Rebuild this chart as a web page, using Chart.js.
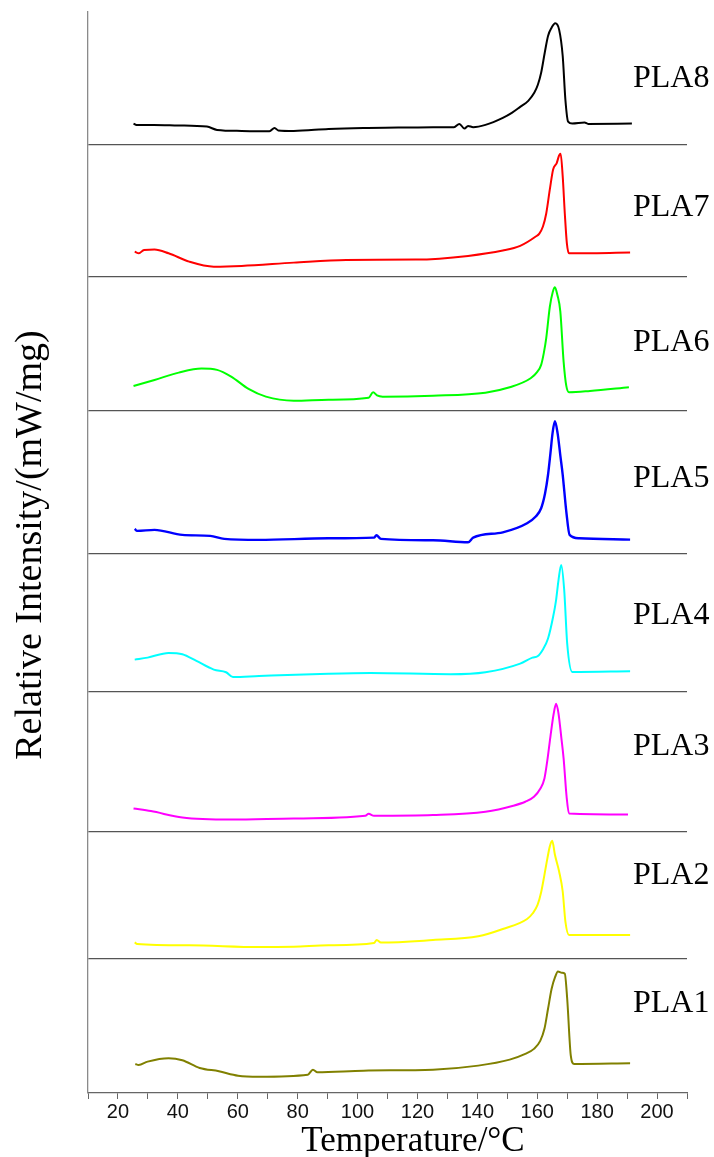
<!DOCTYPE html>
<html>
<head>
<meta charset="utf-8">
<script src="https://cdn.jsdelivr.net/npm/chart.js@4.4.1/dist/chart.umd.min.js"></script>
<style>
html,body{margin:0;padding:0;background:#fff;}
</style>
</head>
<body>
<canvas id="chrDSC" width="714" height="1157"></canvas>
<script>
// DSC curves, bottom panel first (PLA1) up to PLA8
// values = relative heat flow above each panel's base line (arbitrary units)

const samples = ['PLA1','PLA2','PLA3','PLA4','PLA5','PLA6','PLA7','PLA8'];
const colors  = ['#808000','#ffff00','#ff00ff','#00ffff','#0000ff','#00ff00','#ff0000','#000000'];

const pla1Temp = [25.8,26.9,29.9,36.9,41.5,47.3,53.7,60.1,67.1,83.4,85.1,86.6,102,125.2,140.3,150.8,156,158.9,161,162.4,163.6,164.8,166,166.9,168.2,169.2,170,171.2,172.3,191];
const pla1Val  = [29,28,31.3,34.7,32.7,25,21.7,17.3,16.3,18.3,23.3,20.7,22.3,23.3,27.3,33.3,39,44,52,64,84,104,116,121.3,120,119,94,37.3,29,29.7];

const pla2Temp = [25.6,26.4,43.8,67.1,78.7,90.3,105.5,106.4,107.8,125.2,140.3,148.5,156.6,158.5,160.1,161.3,162.4,163.4,164.2,165,165.9,167.3,168.5,169.4,170.6,191];
const pla2Val  = [16,14.3,13,11.3,11.7,13,15.3,18.3,15.7,18.3,22,29.3,39.3,45,53.3,66,83.3,100,111.7,117.3,103.3,86.7,66.7,36.7,23.3,23.3];

const pla3Temp = [25.2,31,41.5,57.8,78.7,102.6,103.7,105.5,125.2,142.7,152,156,158.9,161,162.4,163.4,164.4,165.5,166.3,167.1,168,168.8,169.8,170.6,190.3];
const pla3Val  = [23.3,20.7,14.3,12.3,13.3,16,18,16,16.7,20,26,30,35,43,53.3,72,95,118,127.7,118,95,73.3,35,18.3,17.3];

const pla4Temp = [25.6,29.9,36.9,41.5,46.2,52,56.1,58.4,67.1,90.3,104.3,131,142.7,154.3,158.4,160.1,162,163.6,165.3,166.3,167.1,168,169,170,171.7,191];
const pla4Val  = [32.3,34.3,39,37.7,31,22.3,19.7,15,16,18.3,19,17.7,19.7,28.3,34.3,35.7,43,53.3,75,92,111.7,126.7,101.7,48.3,20,20.7];

const pla5Temp = [25.6,26.4,32.2,41.5,50.8,55.5,67.1,90.3,105.5,106.3,107.8,125.2,136.9,138.6,148.5,156.6,159.5,161.3,162.6,163.6,164.4,165.1,165.9,166.8,167.7,168.5,169.7,170.8,174,191];
const pla5Val  = [24.7,22.7,23.7,18.7,17.7,14.7,13.7,15.3,16,18.3,14.7,13.3,11.3,16,21.3,30.3,37,45.3,60,78.7,100,120,132,120,98,78.7,42,18.7,15.3,14];

const pla6Temp = [25.2,32.2,40.3,47.9,53.1,57.8,63.6,69.4,78.7,90.3,103.7,105.2,106.5,108.4,125.2,142.7,150.8,157.8,160,161.3,162.2,163,164.2,165.2,165.9,166.7,167.7,168.8,169.7,170.6,177.6,190.6];
const pla6Val  = [25,31,38.3,42.3,41,34.3,22,14.3,10.3,11.3,13.3,18.7,15.5,14.3,15.3,18.3,23.7,32.7,39,46,58,72.7,104,119,123.5,116,99.3,49.3,25,18.7,20,23.7];

const pla7Temp = [25.6,27,28.7,32.2,36.9,43.8,52,61.3,78.7,96.2,119.4,136.9,148.5,154.3,159.5,160.7,161.9,163,164.2,165.3,166.5,167.3,167.8,168.5,169.2,169.9,170.6,191];
const pla7Val  = [25,23.3,26.7,27,23.3,15,10,10.7,14,16.7,17,20.7,26,30.7,40,43,50,63,87,107,113.3,121,122.7,100,63,33,23.3,24];

const pla8Temp = [25.2,26.2,32,40,49.7,53.1,61.3,70.6,72.3,73.5,78.7,90.3,102,113.6,125.2,132.2,134,135.7,136.9,138.6,142.7,148.5,151.5,154.3,157,159,160.2,161.3,162.5,163.6,164.8,166,167.3,168.5,169.4,170.3,171.7,175.8,177,191.6];
const pla8Val  = [21.3,20,20,19.5,18.3,15,14,13.7,17,14.5,14,16,17,17.3,17.7,17.7,21,16.3,19,17.7,20,27,32,38,44,52,60,72,92,108.7,117,121.3,115,88.7,45,23.3,21.3,22.3,21,21.3];

const temps = [pla1Temp,pla2Temp,pla3Temp,pla4Temp,pla5Temp,pla6Temp,pla7Temp,pla8Temp];
const vals  = [pla1Val,pla2Val,pla3Val,pla4Val,pla5Val,pla6Val,pla7Val,pla8Val];

const xTicks = [20,40,60,80,100,120,140,160,180,200];
const xTitle = 'Temperature/°C';
const yTitle = 'Relative Intensity/(mW/mg)';

// layout: panel heights (px) and where the sample name sits inside its panel
const panelHeights = [134.3,126.2,139.5,138,142.3,134,131.4,132.6];
const labelLevels  = [89,83,85,76,75,68,69,66];

/******************************** */

const textPlugin = {
  id: 'texts',
  afterDraw: (chart) => {
    const ctx = chart.ctx;
    const area = chart.chartArea;
    ctx.save();
    ctx.fillStyle = '#000';
    ctx.font = '32px "Liberation Serif"';
    ctx.textAlign = 'left';
    ctx.textBaseline = 'middle';
    samples.forEach((name, i) => {
      const s = chart.scales['y' + i];
      ctx.fillText(name, area.right - 54, s.getPixelForValue(labelLevels[i]));
    });
    ctx.font = '35px "Liberation Serif"';
    ctx.textAlign = 'center';
    ctx.textBaseline = 'alphabetic';
    ctx.fillText(xTitle, 413, 1151);
    ctx.translate(41, 545);
    ctx.rotate(-Math.PI / 2);
    ctx.font = '38px "Liberation Serif"';
    ctx.fillText(yTitle, 0, 0);
    ctx.restore();
  }
};

const scales = {
  x: {
    type: 'linear', min: 10, max: 210, position: 'bottom',
    border: { color: '#666', width: 1.3 },
    grid: { drawOnChartArea: false, drawTicks: true, tickLength: 6, color: '#666' },
    ticks: {
      stepSize: 10, autoSkip: false, maxRotation: 0, padding: 1, color: '#111',
      font: { family: 'Liberation Sans', size: 20 },
      callback: (v) => xTicks.includes(v) ? v : ''
    }
  }
};

samples.forEach((name, i) => {
  scales['y' + i] = {
    type: 'linear', position: 'left', stack: 'panels', stackWeight: panelHeights[i],
    min: 0, max: panelHeights[i],
    border: { display: true, color: '#8a8a8a', width: 1.3 },
    grid: { display: i > 0, drawTicks: false, color: '#555', lineWidth: 1.3 },
    ticks: { display: false },
    afterBuildTicks: (s) => { s.ticks = [{ value: 0 }]; }
  };
});

const datasets = samples.map((name, i) => ({
  label: name,
  data: temps[i].map((t, k) => ({ x: t, y: vals[i][k] })),
  yAxisID: 'y' + i,
  borderColor: colors[i],
  borderWidth: i === 4 ? 2.4 : 2,
  pointRadius: 0,
  cubicInterpolationMode: 'monotone',
  fill: false
}));

new Chart(document.getElementById('chrDSC').getContext('2d'), {
  type: 'line',
  data: { datasets: datasets },
  options: {
    responsive: false,
    animation: false,
    layout: { padding: { left: 88, right: 27, top: 12, bottom: 32 } },
    plugins: { legend: { display: false }, tooltip: { enabled: false } },
    scales: scales
  },
  plugins: [textPlugin]
});
</script>
</body>
</html>
